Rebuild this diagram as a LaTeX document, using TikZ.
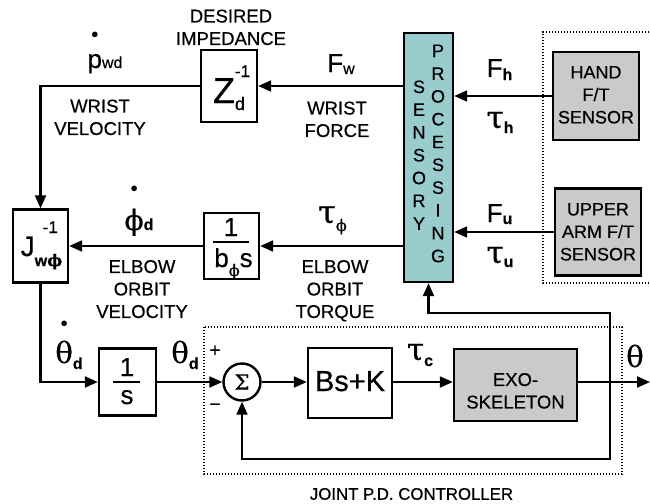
\documentclass[tikz,border=0pt]{standalone}
\usepackage{fontspec}
\setmainfont{Liberation Sans}[FakeBold=0.45]
\newfontfamily\gk{DejaVu Serif}[FakeBold=0.8]
\usetikzlibrary{arrows.meta}
\definecolor{tealfill}{RGB}{153,204,204}
\definecolor{grayfill}{RGB}{202,202,202}
\newcommand{\ddt}[2]{\ooalign{#1\cr\hidewidth\raisebox{#2}{\fontsize{20}{20}\selectfont •}\hidewidth\cr}}
\newcommand{\Lg}{\fontsize{26}{26}\selectfont}
\newcommand{\Gk}[2]{{\fontsize{#1}{#1}\selectfont\gk #2}}
\newcommand{\Sb}[2][4pt]{\raisebox{-#1}{\fontsize{16}{16}\selectfont #2}}
\begin{document}
\begin{tikzpicture}[x=1pt,y=-1pt, line width=2.1pt,
  blk/.style={draw, line width=2.4pt, inner sep=0pt},
  arr/.style={-{Triangle[length=13pt,width=11pt]}},
  lbl/.style={font=\fontsize{18.5}{22.5}\selectfont, align=center, anchor=north, inner sep=0pt},
  sym/.style={font=\Lg, anchor=base, inner sep=0pt},
  ltr/.style={font=\fontsize{18}{18}\selectfont, anchor=base, inner sep=0pt},
  dotbox/.style={line width=1.4pt, dash pattern=on 1.4pt off 1.6pt}]
\useasboundingbox (0,0) rectangle (650,503);

% blocks
\node[blk, minimum width=56pt, minimum height=72pt] (zd) at (229,86) {};
\node[blk, fill=tealfill, minimum width=49pt, minimum height=249pt] (sens) at (428.5,157.5) {};
\node[blk, fill=grayfill, minimum width=86pt, minimum height=88pt] (hand) at (596,96) {};
\node[blk, fill=grayfill, minimum width=86pt, minimum height=87pt] (upper) at (598,232) {};
\node[blk, minimum width=55pt, minimum height=73pt] (jac) at (40.5,246) {};
\node[blk, minimum width=55pt, minimum height=66pt] (bphi) at (231.5,246) {};
\node[blk, minimum width=57pt, minimum height=67pt] (integ) at (127.5,382) {};
\node[blk, circle, minimum size=37pt, font=\fontsize{21}{21}\selectfont] (sum) at (242,382) {\gk Σ};
\node[blk, minimum width=84pt, minimum height=70pt] (bsk) at (350,383) {};
\node[blk, fill=grayfill, minimum width=123pt, minimum height=72pt] (exo) at (515.5,385) {};

% dotted groups
\draw[dotbox] (652,32) -- (543,32) -- (543,283) -- (652,283);
\draw[dotbox] (204,327) rectangle (622,474);

% coordinates
\coordinate (out) at (650,382);
\coordinate (tap) at (610,382);
\coordinate (up) at (610,313);
\coordinate (dn) at (610,459);

% connectors
\draw[arr] (sens.west |- zd.east) -- (zd.east);
\draw[arr] (zd.west) -| (jac.north);
\draw[arr] (hand.west) -- (sens.east |- hand.west);
\draw[arr] (upper.west) -- (sens.east |- upper.west);
\draw[arr] (sens.west |- bphi.east) -- (bphi.east);
\draw[arr] (bphi.west) -- (bphi.west -| jac.east);
\draw[arr] (jac.south) |- (integ.west);
\draw[arr] (integ.east) -- (sum.west);
\draw[arr] (sum.east) -- (bsk.west |- sum.east);
\draw[arr] (bsk.east |- sum.east) -- (exo.west |- sum.east);
\draw[arr] (exo.east |- sum.east) -- (out);
\draw[arr] (tap) -- (up) -| (sens.south);
\draw[arr] (tap) -- (dn) -| (sum.south);

% text labels
\node[lbl] (desired) at (231,8.5) {DESIRED\\IMPEDANCE};
\node[lbl] (wvel) at (100,98.5) {WRIST\\VELOCITY};
\node[lbl] (wforce) at (337,100.5) {WRIST\\FORCE};
\node[lbl] (eov) at (142,259) {ELBOW\\ORBIT\\VELOCITY};
\node[lbl] (eot) at (335,259) {ELBOW\\ORBIT\\TORQUE};
\node[lbl, font=\fontsize{18}{22.5}\selectfont] (handt) at (596,65) {HAND\\F/T\\SENSOR};
\node[lbl, font=\fontsize{18}{22.5}\selectfont] (uppert) at (598,202) {UPPER\\ARM F/T\\SENSOR};
\node[lbl] (exot) at (515.5,372) {EXO-\\SKELETON};
\node[lbl, font=\fontsize{16.8}{20}\selectfont] (pdc) at (411.5,487) {JOINT P.D. CONTROLLER};

\foreach \c [count=\i] in {S,E,N,S,O,R,Y}
  \node[ltr] (sl\i) at (419,{93+22.8*(\i-1)}) {\c};
\foreach \c [count=\i] in {P,R,O,C,E,S,S,I,N,G}
  \node[ltr] (pl\i) at (438,{57+22.8*(\i-1)}) {\c};

% symbols
\node[sym] (pwd) at (105,68) {\ddt{p}{27pt}\Sb[0pt]{wd}};
\node[sym] (fw) at (341,72) {F\Sb[2pt]{w}};
\node[sym] (zdt) at (229,103) {{\fontsize{36}{36}\selectfont Z}\makebox[0pt][l]{\raisebox{26pt}{\fontsize{17}{17}\selectfont -1}}\raisebox{-7pt}{\fontsize{18}{18}\selectfont d}};
\node[sym] (fh) at (499.5,77) {F\Sb[3pt]{\bfseries h}};
\node[sym] (tauh) at (500,128) {\Gk{31}{τ}\Sb[5pt]{\bfseries h}};
\node[sym] (fu) at (499.5,222) {F\Sb[2pt]{\bfseries u}};
\node[sym] (tauu) at (500,263) {\Gk{31}{τ}\Sb[4pt]{\bfseries u}};
\node[sym] (phid) at (139,230) {\ddt{\Gk{28}{ϕ}}{35pt}\Sb[0pt]{\bfseries d}};
\node[sym] (tauphi) at (332.5,223) {\Gk{32}{τ}\Sb[8pt]{\gk ϕ}};
\node[sym] (thdd) at (69,363) {\ddt{\Gk{29}{θ}}{33pt}\Sb[6pt]{\bfseries d}};
\node[sym] (thd) at (185,363) {\Gk{29}{θ}\Sb[6pt]{\bfseries d}};
\node[sym] (tauc) at (420,360) {\Gk{31}{τ}\Sb[6pt]{\bfseries c}};
\node[sym] (th) at (635,367) {\Gk{29}{θ}};
\node[sym, font=\fontsize{29}{29}\selectfont] (bskt) at (350,391) {Bs+K};
\node[sym, font=\fontsize{28}{28}\selectfont] (jt) at (41.5,256) {J\makebox[0pt][l]{\hspace{8pt}\raisebox{23pt}{\fontsize{17}{17}\selectfont -1}}\raisebox{-10pt}{\fontsize{16}{16}\selectfont\bfseries w{\gk ϕ}}};
\node[font=\fontsize{19}{19}\selectfont, inner sep=0pt] (plus) at (215,351) {+};
\node[font=\fontsize{19}{19}\selectfont, inner sep=0pt] (minus) at (215,407) {−};

% fractions
\node[sym] (one1) at (127,376) {1};
\draw (113,382) -- (140,382);
\node[sym] (s1) at (127,404) {s};
\node[sym] (one2) at (231,236) {1};
\draw (213,242) -- (249,242);
\node[sym] (bphis) at (233.5,267) {b\Sb[9pt]{\gk ϕ}s};
\end{tikzpicture}
\end{document}
